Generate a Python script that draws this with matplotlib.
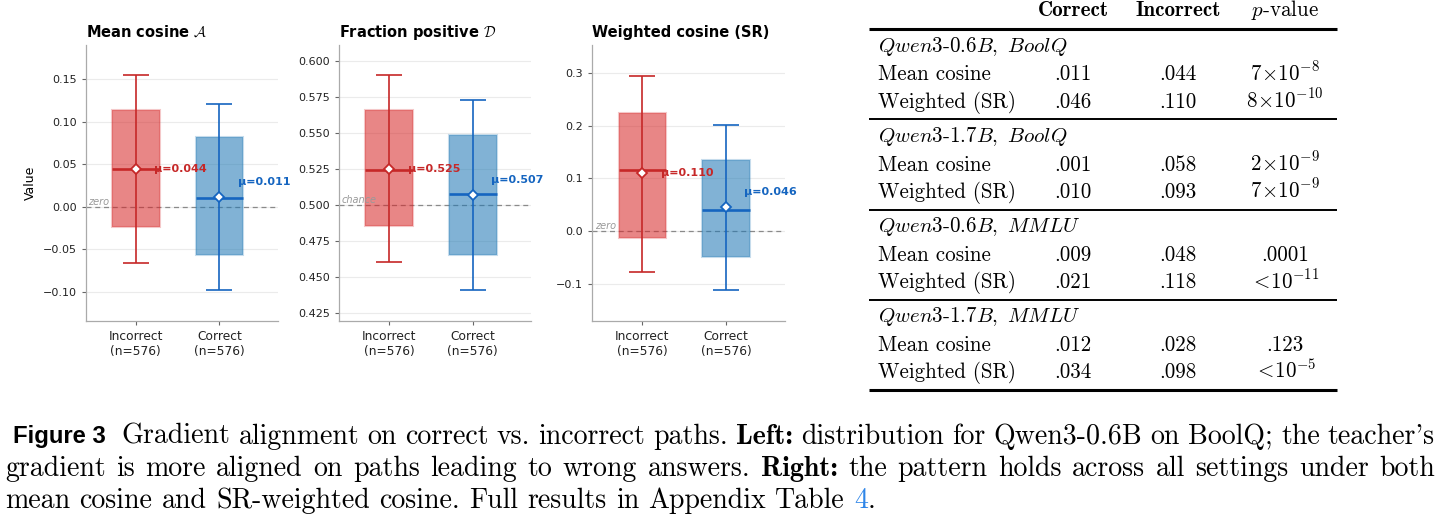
import matplotlib
matplotlib.use("Agg")
import matplotlib.pyplot as plt
import matplotlib.transforms as mtransforms

plt.rcParams['mathtext.fontset'] = 'cm'

# --- left panel: distribution for Qwen3-0.6B on BoolQ ---
groups = ['Incorrect', 'Correct']
n_paths = [576, 576]
metric_titles = [r'Mean cosine $\mathcal{A}$', r'Fraction positive $\mathcal{D}$',
                 'Weighted cosine (SR)']
ref_labels = ['zero', 'chance', 'zero']
ref_values = [0.0, 0.5, 0.0]

means = [[0.044, 0.011], [0.525, 0.507], [0.110, 0.046]]
medians = [[0.0444, 0.0106], [0.5247, 0.5078], [0.1156, 0.0398]]
q1 = [[-0.0235, -0.0565], [0.4854, 0.4655], [-0.0126, -0.0499]]
q3 = [[0.1138, 0.0820], [0.5663, 0.5485], [0.2231, 0.1352]]
whisk_lo = [[-0.066, -0.098], [0.4605, 0.4411], [-0.0771, -0.1125]]
whisk_hi = [[0.155, 0.121], [0.5901, 0.5730], [0.2951, 0.2016]]

y_limits = [(-0.134, 0.190), (0.42, 0.611), (-0.170, 0.353)]
y_ticks = [[-0.10, -0.05, 0.00, 0.05, 0.10, 0.15],
           [0.425, 0.450, 0.475, 0.500, 0.525, 0.550, 0.575, 0.600],
           [-0.1, 0.0, 0.1, 0.2, 0.3]]

# --- right panel: table ---
models = ['Qwen3-0.6B', 'Qwen3-1.7B', 'Qwen3-0.6B', 'Qwen3-1.7B']
datasets = ['BoolQ', 'BoolQ', 'MMLU', 'MMLU']
row_names = ['Mean cosine', 'Weighted (SR)']
correct_vals = [[0.011, 0.046], [0.001, 0.010], [0.009, 0.021], [0.012, 0.034]]
incorrect_vals = [[0.044, 0.110], [0.058, 0.093], [0.048, 0.118], [0.028, 0.098]]
p_values = [[r'$7\!\times\!10^{-8}$', r'$8\!\times\!10^{-10}$'],
            [r'$2\!\times\!10^{-9}$', r'$7\!\times\!10^{-9}$'],
            ['.0001', r'$<\!10^{-11}$'],
            ['.123', r'$<\!10^{-5}$']]

caption_lines = [
    [('Figure 3', 'fig'), ('Gradient', 'rm'), ('alignment', 'rm'), ('on', 'rm'), ('correct', 'rm'),
     ('vs.', 'rm'), ('incorrect', 'rm'), ('paths.', 'rm'), ('Left:', 'bf'), ('distribution', 'rm'),
     ('for', 'rm'), ('Qwen3-0.6B', 'rm'), ('on', 'rm'), ('BoolQ;', 'rm'), ('the', 'rm'),
     ("teacher's", 'rm')],
    [('gradient', 'rm'), ('is', 'rm'), ('more', 'rm'), ('aligned', 'rm'), ('on', 'rm'), ('paths', 'rm'),
     ('leading', 'rm'), ('to', 'rm'), ('wrong', 'rm'), ('answers.', 'rm'), ('Right:', 'bf'),
     ('the', 'rm'), ('pattern', 'rm'), ('holds', 'rm'), ('across', 'rm'), ('all', 'rm'),
     ('settings', 'rm'), ('under', 'rm'), ('both', 'rm')],
    [('mean', 'rm'), ('cosine', 'rm'), ('and', 'rm'), ('SR-weighted', 'rm'), ('cosine.', 'rm'),
     ('Full', 'rm'), ('results', 'rm'), ('in', 'rm'), ('Appendix', 'rm'), ('Table', 'rm'),
     ('4', 'link'), ('.', 'rm+')],
]

fill_colors = ['#d62728', '#1f77b4']
line_colors = ['#c62828', '#1565c0']
label_offsets = [0, 11]

fig = plt.figure(figsize=(14.42, 5.31), dpi=100)

ax_lefts = [85.7, 339.0, 592.3]
for k in range(3):
    ax = fig.add_axes([ax_lefts[k] / 1442, 210.3 / 531, 192.3 / 1442, 275.7 / 531])
    xs = list(range(len(groups)))
    for i in xs:
        ax.bar(i, q3[k][i] - q1[k][i], bottom=q1[k][i], width=0.57,
               facecolor=fill_colors[i], alpha=0.56, edgecolor='none', zorder=2)
        ax.bar(i, q3[k][i] - q1[k][i], bottom=q1[k][i], width=0.57,
               facecolor='none', edgecolor=fill_colors[i], alpha=0.25, linewidth=1.5, zorder=2)
        ax.errorbar(i, means[k][i],
                    yerr=[[means[k][i] - whisk_lo[k][i]], [whisk_hi[k][i] - means[k][i]]],
                    fmt='none', ecolor=line_colors[i], elinewidth=1.2, capsize=9.4,
                    capthick=1.2, zorder=3)
        ax.hlines(medians[k][i], i - 0.285, i + 0.285, color=line_colors[i], lw=1.9, zorder=4)
        ax.plot(i, means[k][i], marker='D', ms=5.5, mfc='white', mec=line_colors[i],
                mew=1.3, zorder=5)
        ax.annotate(f'μ={means[k][i]:.3f}', xy=(i + 0.22, means[k][i]),
                    xytext=(0, label_offsets[i]), textcoords='offset points',
                    ha='left', va='center', fontsize=8, fontweight='bold',
                    color=line_colors[i], zorder=6)

    ax.axhline(ref_values[k], color='#8a8a8a', lw=0.9, ls=(0, (4, 3)), zorder=1)
    trans = mtransforms.blended_transform_factory(ax.transAxes, ax.transData)
    ax.text(0.014, ref_values[k], ref_labels[k], transform=trans, fontsize=7,
            style='italic', color='#999999', ha='left', va='bottom')

    ax.set_xlim(-0.6, 1.7)
    ax.set_ylim(*y_limits[k])
    ax.set_yticks(y_ticks[k])
    ax.set_xticks(xs)
    ax.set_xticklabels([f'{g}\n(n={n})' for g, n in zip(groups, n_paths)], fontsize=8.8,
                       color='#222222')
    ax.tick_params(axis='y', labelsize=8, labelcolor='#222222')
    ax.tick_params(length=3, width=0.8, color='#666666')
    ax.yaxis.grid(True, color='#ebebeb', lw=0.8)
    ax.set_axisbelow(True)
    for side in ['top', 'right']:
        ax.spines[side].set_visible(False)
    for side in ['left', 'bottom']:
        ax.spines[side].set_color('#aaaaaa')
        ax.spines[side].set_linewidth(0.9)
    ax.set_title(metric_titles[k], loc='left', fontsize=10.5, fontweight='bold', pad=6)
    if k == 0:
        ax.set_ylabel('Value', fontsize=9)

# --- table and caption on an overlay in pixel units ---
ov = fig.add_axes([0, 0, 1, 1])
ov.set_xlim(0, 1442)
ov.set_ylim(531, 0)
ov.axis('off')

tfs = 15.1
rm = dict(family='cmr10', fontsize=tfs)
col_x = [1073, 1178, 1285]
ov.text(col_x[0], 15.5, 'Correct', family='cmb10', fontsize=tfs, ha='center', va='baseline')
ov.text(col_x[1], 15.5, 'Incorrect', family='cmb10', fontsize=tfs, ha='center', va='baseline')
ov.text(col_x[2], 15.5, r'$p$-value', ha='center', va='baseline', **rm)

rule_x = (869, 1337)
rule0 = 29.0
step = 90.3
ov.hlines(rule0, *rule_x, color='black', lw=2.2)
for gi in range(len(models)):
    top = rule0 + gi * step
    m1, m2 = models[gi].split('-')
    ov.text(878, top + 22.5, f'${m1}$-${m2},\\ {datasets[gi]}$', ha='left', va='baseline', **rm)
    for ri in range(len(row_names)):
        yb = top + 51.5 + ri * 27
        ov.text(878, yb, row_names[ri], ha='left', va='baseline', **rm)
        ov.text(col_x[0], yb, f'{correct_vals[gi][ri]:.3f}'.lstrip('0'), ha='center',
                va='baseline', **rm)
        ov.text(col_x[1], yb, f'{incorrect_vals[gi][ri]:.3f}'.lstrip('0'), ha='center',
                va='baseline', **rm)
        ov.text(col_x[2], yb, p_values[gi][ri], ha='center', va='baseline', **rm)
    last = gi == len(models) - 1
    ov.hlines(top + step, *rule_x, color='black', lw=2.2 if last else 1.4)

# caption, justified like the LaTeX source
cfs = 20.1
styles = {
    'fig': dict(family='Liberation Sans', fontweight='bold', fontsize=17.2),
    'rm': dict(family='cmr10', fontsize=cfs),
    'rm+': dict(family='cmr10', fontsize=cfs),
    'bf': dict(family='cmb10', fontsize=cfs),
    'link': dict(family='cmr10', fontsize=cfs, color='#2f86e8'),
}
renderer = fig.canvas.get_renderer()
space = 0.333 * cfs * 100 / 72
line_y = [443.5, 476.0, 508.5]
line_x0 = [13, 5, 5]
line_x1 = 1435
for li, tokens in enumerate(caption_lines):
    items = []
    for s, st in tokens:
        t = ov.text(0, line_y[li], s, ha='left', va='baseline', **styles[st])
        w = t.get_window_extent(renderer).width
        items.append((t, w, st))
    gaps = [0.0 if st == 'rm+' else 1.0 for _, _, st in items[1:]]
    extra = [8.0 if (j == 0 and items[0][2] == 'fig') else 0.0 for j in range(len(gaps))]
    total_w = sum(w for _, w, _ in items)
    if li < len(caption_lines) - 1:
        g = (line_x1 - line_x0[li] - total_w - sum(extra)) / sum(gaps)
    else:
        g = space
    x = line_x0[li]
    for j, (t, w, st) in enumerate(items):
        if j > 0:
            x += gaps[j - 1] * g + extra[j - 1]
        t.set_x(x)
        x += w

fig.savefig('out.png', dpi=100)
